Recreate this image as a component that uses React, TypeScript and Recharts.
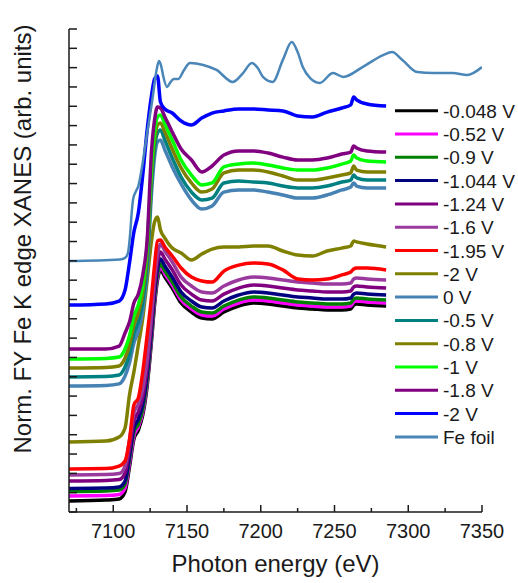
import * as React from "react";
import { LineChart, Line, XAxis, YAxis, Legend } from "recharts";

// energy grid shared by the sample scans (eV)
const energies = [
  7070, 7095, 7104, 7108, 7111, 7114, 7117, 7120, 7123, 7126, 7128, 7130, 7132, 7135, 7140, 7146, 7153,
  7160, 7167, 7175, 7185, 7195, 7205, 7215, 7225, 7235, 7245, 7255, 7261, 7263, 7265, 7272, 7285,
];

// normalized, vertically offset spectra
const v0048 = [
  0.057, 0.062, 0.067, 0.104, 0.233, 0.378, 0.424, 0.502, 0.652, 0.89, 1.071, 1.201, 1.253, 1.216, 1.159, 1.082, 1.035,
  1.004, 0.999, 1.035, 1.066, 1.082, 1.077, 1.066, 1.056, 1.051, 1.046, 1.046, 1.051, 1.071, 1.077, 1.071, 1.066,
];
const v052 = [
  0.083, 0.085, 0.091, 0.124, 0.254, 0.393, 0.44, 0.518, 0.673, 0.911, 1.092, 1.216, 1.268, 1.232, 1.175, 1.097, 1.051,
  1.02, 1.014, 1.051, 1.082, 1.097, 1.092, 1.082, 1.071, 1.066, 1.061, 1.061, 1.066, 1.087, 1.092, 1.087, 1.082,
];
const v09 = [
  0.106, 0.109, 0.114, 0.145, 0.274, 0.414, 0.455, 0.533, 0.688, 0.927, 1.108, 1.232, 1.284, 1.247, 1.19, 1.113, 1.066,
  1.035, 1.03, 1.066, 1.097, 1.113, 1.108, 1.097, 1.087, 1.082, 1.077, 1.077, 1.082, 1.102, 1.108, 1.102, 1.097,
];
const v1044 = [
  0.122, 0.124, 0.129, 0.16, 0.29, 0.435, 0.481, 0.559, 0.714, 0.952, 1.134, 1.258, 1.31, 1.273, 1.216, 1.139, 1.092,
  1.061, 1.056, 1.092, 1.123, 1.139, 1.134, 1.123, 1.113, 1.108, 1.102, 1.102, 1.108, 1.128, 1.134, 1.128, 1.123,
];
const v124 = [
  0.16, 0.163, 0.168, 0.202, 0.326, 0.471, 0.518, 0.595, 0.751, 0.989, 1.17, 1.294, 1.346, 1.31, 1.253, 1.175, 1.128,
  1.097, 1.092, 1.128, 1.159, 1.175, 1.17, 1.159, 1.149, 1.144, 1.139, 1.139, 1.144, 1.165, 1.17, 1.165, 1.159,
];
const v16 = [
  0.192, 0.194, 0.199, 0.238, 0.373, 0.512, 0.559, 0.637, 0.792, 1.03, 1.211, 1.335, 1.387, 1.351, 1.294, 1.216, 1.17,
  1.139, 1.134, 1.17, 1.201, 1.216, 1.211, 1.201, 1.19, 1.185, 1.18, 1.18, 1.185, 1.206, 1.211, 1.206, 1.201,
];
const v195 = [
  0.223, 0.225, 0.238, 0.264, 0.373, 0.554, 0.59, 0.725, 0.916, 1.118, 1.278, 1.403, 1.408, 1.372, 1.325, 1.263, 1.216,
  1.196, 1.19, 1.247, 1.278, 1.289, 1.284, 1.253, 1.206, 1.201, 1.206, 1.227, 1.242, 1.258, 1.263, 1.263, 1.253,
];
const v2a = [
  0.362, 0.367, 0.388, 0.435, 0.606, 0.725, 0.864, 1.004, 1.201, 1.408, 1.501, 1.527, 1.46, 1.418, 1.366, 1.341, 1.304,
  1.335, 1.361, 1.372, 1.372, 1.377, 1.377, 1.351, 1.33, 1.325, 1.351, 1.366, 1.377, 1.403, 1.398, 1.387, 1.372,
];
const v0 = [
  0.652, 0.655, 0.663, 0.704, 0.771, 0.875, 0.937, 1.04, 1.247, 1.656, 1.837, 1.915, 1.925, 1.874, 1.786, 1.698, 1.615,
  1.568, 1.584, 1.656, 1.667, 1.667, 1.656, 1.641, 1.625, 1.625, 1.641, 1.667, 1.682, 1.703, 1.687, 1.677, 1.677,
];
const v05 = [
  0.699, 0.701, 0.709, 0.751, 0.818, 0.921, 0.983, 1.087, 1.294, 1.708, 1.884, 1.962, 1.977, 1.925, 1.832, 1.734, 1.656,
  1.615, 1.625, 1.703, 1.713, 1.708, 1.703, 1.687, 1.677, 1.677, 1.687, 1.708, 1.718, 1.744, 1.729, 1.718, 1.718,
];
const v08 = [
  0.745, 0.748, 0.756, 0.797, 0.864, 0.968, 1.03, 1.134, 1.341, 1.755, 1.925, 2.003, 2.013, 1.967, 1.879, 1.781, 1.703,
  1.656, 1.672, 1.755, 1.77, 1.77, 1.76, 1.739, 1.718, 1.718, 1.729, 1.744, 1.755, 1.791, 1.77, 1.76, 1.76,
];
const v1 = [
  0.792, 0.795, 0.802, 0.844, 0.911, 1.014, 1.071, 1.175, 1.382, 1.796, 1.967, 2.045, 2.055, 2.008, 1.925, 1.822, 1.744,
  1.693, 1.703, 1.786, 1.801, 1.806, 1.796, 1.781, 1.77, 1.77, 1.781, 1.801, 1.817, 1.848, 1.832, 1.817, 1.812,
];
const v18 = [
  0.844, 0.844, 0.859, 0.927, 0.983, 1.082, 1.128, 1.227, 1.408, 1.874, 2.029, 2.096, 2.091, 2.045, 1.967, 1.879, 1.822,
  1.76, 1.791, 1.848, 1.869, 1.869, 1.858, 1.837, 1.822, 1.822, 1.832, 1.853, 1.863, 1.894, 1.884, 1.869, 1.863,
];
const v2b = [
  1.071, 1.077, 1.092, 1.149, 1.289, 1.449, 1.548, 1.744, 1.977, 2.158, 2.241, 2.257, 2.122, 2.086, 2.065, 2.024, 2.003,
  2.039, 2.065, 2.076, 2.086, 2.086, 2.081, 2.076, 2.05, 2.045, 2.07, 2.091, 2.107, 2.148, 2.133, 2.112, 2.101,
];

// Fe foil reference, own energy grid
const feEnergies = [
  7070, 7104.5, 7108, 7110, 7111.5, 7112.5, 7113.5, 7115.5, 7117, 7119.5, 7123, 7126.5, 7129.5, 7131, 7132.5, 7134,
  7136.5, 7138.5, 7141, 7144, 7148, 7152, 7161, 7170, 7181, 7188, 7194, 7198, 7201.5, 7208, 7215, 7221, 7225, 7228.5,
  7233.5, 7240, 7249, 7256, 7269, 7283, 7289, 7296, 7306, 7317, 7330, 7340, 7350,
];
const feFoil = [
  1.299, 1.307, 1.315, 1.341, 1.444, 1.548, 1.62, 1.662, 1.687, 1.786, 1.962, 2.133, 2.293, 2.334, 2.308, 2.252, 2.2,
  2.221, 2.241, 2.241, 2.288, 2.324, 2.314, 2.288, 2.226, 2.272, 2.324, 2.298, 2.252, 2.226, 2.34, 2.433, 2.381, 2.303,
  2.246, 2.221, 2.272, 2.252, 2.303, 2.365, 2.381, 2.34, 2.277, 2.272, 2.272, 2.262, 2.303,
];

const seriesNames = [
  "-0.048 V", "-0.52 V", "-0.9 V", "-1.044 V", "-1.24 V", "-1.6 V", "-1.95 V", "-2 V",
  "0 V", "-0.5 V", "-0.8 V", "-1 V", "-1.8 V", "-2 V", "Fe foil",
];
const seriesValues = [v0048, v052, v09, v1044, v124, v16, v195, v2a, v0, v05, v08, v1, v18, v2b];
const colors = [
  "#000000", "#ff00ff", "#008000", "#000080", "#800080", "#9b3a9e", "#ff0000", "#808000",
  "#4682b4", "#008080", "#808000", "#00ff00", "#800080", "#0000ff", "#4a87b8",
];

const xTicks = [7075, 7100, 7125, 7150, 7175, 7200, 7225, 7250, 7275, 7300, 7325, 7350];
const yTicks = [
  0, 0.1, 0.2, 0.3, 0.4, 0.5, 0.6, 0.7, 0.8, 0.9, 1, 1.1, 1.2, 1.3, 1.4, 1.5, 1.6, 1.7, 1.8, 1.9, 2, 2.1, 2.2,
  2.3, 2.4, 2.5,
];

const FONT = '"Liberation Sans", Arial, sans-serif';
const INK = "#1a1a1a";

const XTick = (props: any) => {
  const { x, y, payload } = props;
  const major = payload.value % 50 === 0;
  return (
    <g>
      <line x1={x} x2={x} y1={y} y2={y - (major ? 7 : 4)} stroke={INK} strokeWidth={1.5} />
      {major && (
        <text x={x} y={y + 26} textAnchor="middle" fontSize={20} fontFamily={FONT} fill={INK}>
          {payload.value}
        </text>
      )}
    </g>
  );
};

const YTick = (props: any) => {
  const { x, y } = props;
  return <line x1={x} x2={x + 8} y1={y} y2={y} stroke={INK} strokeWidth={1.5} />;
};

const renderLegend = () => (
  <svg width={125} height={352} style={{ display: "block" }}>
    {seriesNames.map((name, i) => {
      const cy = 11.7 + i * 23.3;
      return (
        <g key={`leg-${i}`}>
          <line x1={2} x2={45} y1={cy} y2={cy} stroke={colors[i]} strokeWidth={3} />
          <text x={50} y={cy + 7} fontSize={19} fontFamily={FONT} fill={INK}>
            {name}
          </text>
        </g>
      );
    })}
  </svg>
);

export default function App() {
  const sampleData = seriesValues.map((vals) => energies.map((x, i) => ({ x, y: vals[i] })));
  const feData = feEnergies.map((x, i) => ({ x, y: feFoil[i] }));

  return (
    <div style={{ position: "absolute", left: 0, top: 0, width: 518, height: 583, background: "#fff" }}>
      <LineChart width={518} height={583} margin={{ top: 29, right: 36, bottom: 31, left: 9 }}>
        <XAxis
          type="number"
          dataKey="x"
          domain={[7070, 7350]}
          ticks={xTicks}
          interval={0}
          height={40}
          tickSize={0}
          tickMargin={0}
          tickLine={false}
          tick={<XTick />}
          axisLine={{ stroke: INK, strokeWidth: 1.5 }}
          allowDataOverflow
          label={{
            content: () => (
              <text x={275.5} y={572} textAnchor="middle" fontSize={24} fontFamily={FONT} fill={INK}>
                Photon energy (eV)
              </text>
            ),
          }}
        />
        <YAxis
          type="number"
          dataKey="y"
          domain={[0, 2.5]}
          ticks={yTicks}
          interval={0}
          width={60}
          tickSize={0}
          tickMargin={0}
          tickLine={false}
          tick={<YTick />}
          axisLine={{ stroke: INK, strokeWidth: 1.5 }}
          allowDataOverflow
          label={{
            content: () => (
              <text
                x={31}
                y={239}
                transform="rotate(-90 31 239)"
                textAnchor="middle"
                fontSize={24}
                fontFamily={FONT}
                fill={INK}
              >
                Norm. FY Fe K edge XANES (arb. units)
              </text>
            ),
          }}
        />
        {sampleData.map((d, i) => (
          <Line
            key={`s-${i}`}
            data={d}
            dataKey="y"
            name={seriesNames[i]}
            type="monotone"
            stroke={colors[i]}
            strokeWidth={3.5}
            dot={false}
            isAnimationActive={false}
          />
        ))}
        <Line
          data={feData}
          dataKey="y"
          name="Fe foil"
          type="monotone"
          stroke={colors[14]}
          strokeWidth={2.5}
          dot={false}
          isAnimationActive={false}
        />
        <Legend
          layout="vertical"
          align="center"
          verticalAlign="middle"
          content={renderLegend}
          wrapperStyle={{ left: 393, top: 99, width: 125, height: 352 }}
        />
      </LineChart>
    </div>
  );
}
